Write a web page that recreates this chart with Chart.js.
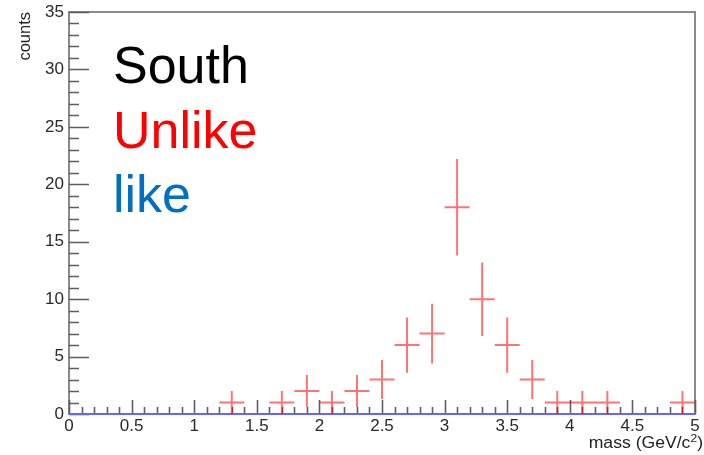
<!DOCTYPE html>
<html lang="en">
<head>
<meta charset="utf-8"/>
<title>South Unlike / like mass</title>
<script src="https://cdn.jsdelivr.net/npm/chart.js@4.4.3/dist/chart.umd.min.js"></script>
<style>
  * { box-sizing: border-box; }
  html, body { margin: 0; padding: 0; background: #fff; }
  #wrap { position: relative; width: 704px; height: 455px; }
</style>
</head>
<body>
<div id="wrap"><canvas id="c"></canvas></div>
<script>
// ---------------------------------------------------------------------------
// Data (bin width 0.2 GeV/c^2)
// ---------------------------------------------------------------------------
const BIN_WIDTH = 0.2;
const unlikeCenters = [1.3, 1.7, 1.9, 2.1, 2.3, 2.5, 2.7, 2.9, 3.1, 3.3, 3.5, 3.7, 3.9, 4.1, 4.3, 4.9];
const unlikeCounts  = [1,   1,   2,   1,   2,   3,   6,   7,   18,  10,  6,   3,   1,   1,   1,   1];
const unlikeErrors  = [1,   1,   1.4, 1,   1.4, 1.7, 2.4, 2.6, 4.2, 3.2, 2.4, 1.7, 1,   1,   1,   1];
// "like" histogram: every bin from 0 to 5 is empty
const likeEdgesStart = 0;
const likeCounts = [0, 0, 0, 0, 0, 0, 0, 0, 0, 0, 0, 0, 0, 0, 0, 0, 0, 0, 0, 0, 0, 0, 0, 0, 0];

const X_MIN = 0, X_MAX = 5, Y_MIN = 0, Y_MAX = 35;
const xMajor = 0.5, xMinor = 0.1;
const yMajor = 5, yMinor = 1;

const labelLines = [
  { text: 'South',  color: '#000000' },
  { text: 'Unlike', color: '#ff0000' },
  { text: 'like',   color: '#0070c0' },
];
const X_TITLE = 'mass (GeV/c';
const X_TITLE_SUP = '2';
const Y_TITLE = 'counts';

const FONT = '"Liberation Sans", Arial, Helvetica, sans-serif';

// error-bar crosses as line segments separated by gaps
const crossPoints = [];
unlikeCenters.forEach((c, i) => {
  const n = unlikeCounts[i], e = unlikeErrors[i];
  crossPoints.push({ x: c - BIN_WIDTH / 2, y: n }, { x: c + BIN_WIDTH / 2, y: n }, { x: c, y: null });
  crossPoints.push({ x: c, y: Math.max(0, n - e) }, { x: c, y: n + e }, { x: c, y: null });
});

// like histogram as a step outline
const likePoints = [];
likeCounts.forEach((n, i) => {
  const lo = likeEdgesStart + i * BIN_WIDTH;
  likePoints.push({ x: lo, y: n }, { x: lo + BIN_WIDTH, y: n });
});

const fmtTick = (v) => String(Math.round(v * 10) / 10);

const rootFrame = {
  id: 'rootFrame',
  beforeDatasetsDraw(chart) {
    const { ctx, chartArea: a, scales: { x, y } } = chart;
    ctx.save();
    // frame
    ctx.strokeStyle = '#8a8a8a';
    ctx.lineWidth = 2;
    ctx.strokeRect(a.left, a.top, a.right - a.left, a.bottom - a.top);
    // inside ticks
    ctx.strokeStyle = '#5e5e5e';
    ctx.lineWidth = 1.6;
    ctx.beginPath();
    for (let k = 0; k <= Math.round((Y_MAX - Y_MIN) / yMinor); k++) {
      const v = Y_MIN + k * yMinor;
      const py = Math.round(y.getPixelForValue(v)) + 0.5;
      const len = (k % Math.round(yMajor / yMinor) === 0) ? 20 : 10;
      ctx.moveTo(a.left, py);
      ctx.lineTo(a.left + len, py);
    }
    for (let k = 0; k <= Math.round((X_MAX - X_MIN) / xMinor); k++) {
      const v = X_MIN + k * xMinor;
      const px = Math.round(x.getPixelForValue(v)) + 0.5;
      const len = (k % Math.round(xMajor / xMinor) === 0) ? 14 : 7;
      ctx.moveTo(px, a.bottom);
      ctx.lineTo(px, a.bottom - len);
    }
    ctx.stroke();
    ctx.restore();
  },
  afterDraw(chart) {
    const { ctx, chartArea: a } = chart;
    ctx.save();
    // big labels
    ctx.font = '52px ' + FONT;
    ctx.textAlign = 'left';
    ctx.textBaseline = 'alphabetic';
    labelLines.forEach((l, i) => {
      ctx.fillStyle = l.color;
      ctx.fillText(l.text, 113, 83 + i * 64.5);
    });

    // x title, right aligned past the frame like ROOT does
    ctx.fillStyle = '#222';
    const sx = 1.1;
    ctx.font = '16px ' + FONT;
    const wMain = ctx.measureText(X_TITLE).width;
    const wClose = ctx.measureText(')').width;
    ctx.font = '11px ' + FONT;
    const wSup = ctx.measureText(X_TITLE_SUP).width;
    const total = (wMain + wSup + wClose) * sx;
    ctx.translate(703 - total, 448);
    ctx.scale(sx, 1);
    ctx.font = '16px ' + FONT;
    ctx.fillText(X_TITLE, 0, 0);
    ctx.font = '11px ' + FONT;
    ctx.fillText(X_TITLE_SUP, wMain, -6.5);
    ctx.font = '16px ' + FONT;
    ctx.fillText(')', wMain + wSup, 0);
    ctx.setTransform(chart.currentDevicePixelRatio, 0, 0, chart.currentDevicePixelRatio, 0, 0);

    // y title
    ctx.translate(26, a.top);
    ctx.rotate(-Math.PI / 2);
    ctx.scale(1.03, 1);
    ctx.font = '16px ' + FONT;
    ctx.textAlign = 'right';
    ctx.textBaseline = 'middle';
    ctx.fillText(Y_TITLE, 0, 0);
    ctx.restore();
  }
};

new Chart(document.getElementById('c'), {
  type: 'scatter',
  data: {
    datasets: [
      {
        label: 'Unlike',
        data: crossPoints,
        showLine: true,
        spanGaps: false,
        borderColor: 'rgba(255,0,0,0.55)',
        borderWidth: 2,
        pointRadius: 0,
        pointHoverRadius: 0,
      },
      {
        label: 'like',
        data: likePoints,
        showLine: true,
        clip: false,
        borderColor: '#6464ff',
        borderWidth: 2,
        pointRadius: 0,
        pointHoverRadius: 0,
      },
    ],
  },
  options: {
    responsive: true,
    maintainAspectRatio: false,
    animation: false,
    events: [],
    layout: { padding: { top: 12, right: 9, left: 0, bottom: 0 }, autoPadding: false },
    plugins: { legend: { display: false }, tooltip: { enabled: false } },
    scales: {
      x: {
        type: 'linear', min: X_MIN, max: X_MAX,
        grid: { display: false, drawTicks: false },
        border: { display: false },
        ticks: { stepSize: xMajor, color: '#2a2a2a', padding: 4, maxRotation: 0, callback: fmtTick,
                 font: { family: FONT, size: 17, lineHeight: 1 } },
        afterFit(s) { s.height = 41; },
      },
      y: {
        type: 'linear', min: Y_MIN, max: Y_MAX,
        grid: { display: false, drawTicks: false },
        border: { display: false },
        ticks: { stepSize: yMajor, color: '#2a2a2a', padding: 5, callback: fmtTick,
                 font: { family: FONT, size: 17, lineHeight: 0.75 } },
        afterFit(s) { s.width = 69; },
      },
    },
  },
  plugins: [rootFrame],
});
</script>
</body>
</html>
